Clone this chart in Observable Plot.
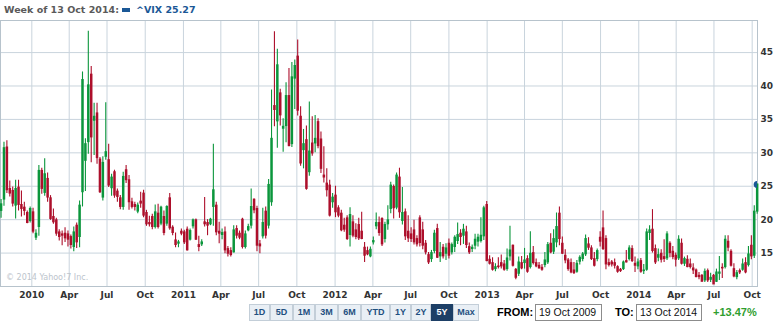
<!DOCTYPE html>
<html><head><meta charset="utf-8">
<script src="https://cdn.jsdelivr.net/npm/d3@7"></script>
<script src="https://cdn.jsdelivr.net/npm/@observablehq/plot@0.6"></script>
<style>
body{margin:0;background:#fff;}
#page{position:relative;width:776px;height:325px;overflow:hidden;font-family:"DejaVu Sans",Verdana,sans-serif;background:#fff;}
.hdr{position:absolute;top:4px;font-size:9.5px;font-weight:bold;line-height:12px;white-space:nowrap;}
#sq{position:absolute;left:122px;top:8px;width:8px;height:4px;background:#1b5896;}
#chart{position:absolute;left:0;top:20px;}
#wm{position:absolute;left:6px;top:273px;font-size:8px;color:#bcc4cc;white-space:nowrap;}
.btn{position:absolute;top:304px;height:17px;box-sizing:border-box;border:1px solid #c3ced8;background:#e9eff5;color:#1f4f80;font:bold 9px "Liberation Sans",Arial,sans-serif;line-height:15px;text-align:center;}
.btn.sel{background:#1d3f66;color:#fff;border-color:#1d3f66;}
.lbl{position:absolute;top:305px;font:bold 11px "Liberation Sans",Arial,sans-serif;line-height:15px;white-space:nowrap;}
.inp{position:absolute;top:304px;height:17px;box-sizing:border-box;border:1px solid #8c8c8c;font:10.5px "Liberation Sans",Arial,sans-serif;line-height:15px;padding-left:3px;color:#111;white-space:nowrap;}
</style></head>
<body>
<div id="page">
  <div class="hdr" style="left:4px;color:#5a5a5a">Week of 13 Oct 2014:</div>
  <div id="sq"></div>
  <div class="hdr" style="left:136px;color:#1b5896">^VIX 25.27</div>
  <div id="chart"></div>
  <div id="wm">© 2014 Yahoo!7 Inc.</div>
  <div id="bar"></div>
</div>
<script>
// weekly candles, first week starting Monday 19 Oct 2009
const firstWeek = new Date(Date.UTC(2009, 9, 19));
const open = [
21.3,23.0,30.8,24.6,24.3,22.1,24.8,22.2,21.8,21.0,
19.8,21.1,17.3,18.9,27.3,24.0,26.1,23.2,20.4,19.9,
18.1,17.8,17.9,17.8,17.4,15.9,19.1,17.4,24.1,28.8,
31.6,41.7,34.8,35.9,29.0,23.3,29.4,28.9,24.7,27.1,
24.2,23.2,21.9,27.4,25.9,22.6,22.2,21.2,22.7,23.9,
21.0,19.5,20.4,18.9,20.9,19.4,20.4,19.4,23.2,18.8,
16.9,16.4,18.2,18.1,18.5,17.0,19.0,19.9,16.2,16.3,
19.6,19.5,19.3,21.9,22.1,18.2,17.7,18.1,15.6,15.3,
15.1,18.6,17.9,20.0,15.9,18.4,19.1,23.0,21.6,16.3,
17.5,21.2,19.1,22.6,37.0,34.7,38.9,33.6,34.0,38.5,
31.3,41.1,44.4,35.4,30.4,31.9,27.1,31.4,31.4,34.6,
32.0,26.6,25.4,25.1,22.6,23.6,21.7,20.9,19.1,20.2,
17.7,19.6,18.4,19.2,18.2,15.8,15.3,14.5,16.6,19.0,
19.5,20.1,17.1,19.3,21.6,24.9,21.8,26.3,19.8,21.1,
18.2,17.8,18.4,17.1,20.2,18.4,16.4,14.7,14.1,15.3,
18.6,14.5,15.8,14.9,16.4,15.1,15.9,16.8,17.9,17.6,
18.1,15.9,15.6,16.1,16.7,16.8,17.5,22.2,14.0,13.5,
12.6,13.0,13.5,13.3,12.6,14.5,16.1,12.5,11.9,13.5,
13.5,14.1,12.9,15.0,13.5,13.1,12.8,13.2,13.6,16.4,
15.2,16.6,20.9,16.4,14.6,13.9,13.5,12.4,12.2,13.7,
14.1,14.8,16.3,15.7,14.1,14.1,17.3,18.7,17.1,13.5,
13.6,13.5,12.9,12.5,12.6,13.8,14.1,15.6,13.4,13.0,
13.8,12.3,12.5,18.0,18.5,15.6,14.3,14.9,14.4,14.2,
16.4,15.2,14.6,14.2,16.4,13.4,14.0,13.3,12.7,12.4,
11.6,11.6,10.9,12.3,11.0,11.6,10.7,11.9,12.8,12.9,
16.7,15.2,12.6,11.4,12.3,12.5,13.5,13.2,16.1,14.6,
21.2];
const high = [
23.0,31.6,31.8,25.8,24.9,25.9,25.9,24.3,22.6,21.3,
21.9,21.7,18.5,28.1,27.7,29.1,27.0,23.6,21.6,20.2,
18.5,18.3,18.8,18.3,17.7,18.9,19.5,22.8,42.1,32.1,
48.2,42.9,37.4,37.4,29.3,29.4,37.5,31.3,26.8,27.4,
24.6,23.6,27.1,28.1,26.6,23.2,22.6,22.5,24.1,24.4,
21.4,20.5,20.8,22.2,22.3,22.0,21.3,22.1,23.9,19.1,
18.0,16.9,18.6,18.4,18.9,18.6,20.1,20.1,17.5,17.0,
23.3,20.0,20.2,31.3,22.6,19.6,18.6,18.9,16.0,15.8,
19.1,19.1,18.3,20.2,18.3,19.3,24.6,23.1,22.0,16.9,
21.7,21.9,26.0,39.4,48.1,45.5,39.5,35.1,40.5,42.6,
43.5,43.9,46.9,36.9,33.5,34.0,37.6,35.4,35.6,35.1,
33.1,30.9,27.6,25.9,23.9,25.0,22.1,21.4,20.2,20.6,
21.8,20.6,19.4,20.2,21.1,16.6,15.9,15.9,17.4,21.0,
20.4,20.3,19.6,22.1,25.6,25.2,27.0,27.7,24.8,21.6,
20.6,18.8,19.9,17.6,20.6,19.6,16.9,15.1,15.4,18.4,
19.3,16.6,16.3,16.4,17.1,16.5,17.6,19.5,18.5,19.3,
19.0,16.5,16.2,17.8,17.8,20.3,22.0,22.7,14.6,14.3,
13.4,14.3,14.7,13.9,15.6,19.0,16.2,12.7,14.4,14.5,
15.7,14.6,18.2,16.0,14.1,13.6,13.3,15.1,16.6,17.9,
18.5,21.0,21.9,17.4,15.5,14.2,14.1,13.6,13.9,14.6,
15.1,17.7,17.3,16.1,15.1,15.6,18.2,21.3,17.6,14.1,
13.9,14.1,13.1,12.7,13.8,15.4,16.1,16.1,14.4,14.1,
14.2,13.3,18.6,19.1,21.5,16.2,15.6,15.5,17.0,18.2,
16.7,16.0,15.0,17.6,17.1,14.4,14.6,14.1,13.4,12.6,
12.1,11.8,12.6,12.6,12.0,11.8,12.6,14.5,13.4,17.6,
17.6,15.5,13.4,12.4,12.6,14.1,14.3,16.0,17.6,22.1,
25.3];
const low = [
20.2,22.0,23.9,23.4,21.9,20.1,21.3,20.4,20.6,19.4,
19.5,17.9,16.9,17.5,23.8,23.5,22.6,19.9,19.3,17.5,
16.8,16.1,16.6,15.9,15.6,15.2,15.7,15.8,21.9,24.2,
29.8,28.5,29.6,28.3,23.9,22.8,28.9,24.8,23.5,23.2,
22.6,21.5,21.4,25.4,21.4,21.6,21.3,20.9,21.7,20.3,
19.0,18.9,18.5,18.6,18.6,19.1,17.6,19.0,18.4,17.6,
15.8,15.8,17.6,16.3,15.3,16.8,18.6,16.9,15.2,16.0,
18.9,17.6,19.1,19.0,17.6,16.4,17.0,14.9,14.4,14.4,
15.0,17.1,17.0,15.6,15.6,18.2,18.6,20.9,15.2,14.9,
17.1,17.1,18.6,22.0,33.9,30.7,34.0,30.1,31.5,30.9,
30.8,36.5,35.5,28.0,27.6,24.4,26.5,29.5,30.0,30.6,
26.9,25.5,23.4,20.4,21.7,20.3,20.3,18.2,18.1,16.9,
15.9,17.3,17.0,16.9,17.0,13.6,14.6,14.3,16.2,18.5,
17.5,16.0,16.5,18.4,20.9,20.1,21.5,20.2,19.2,16.9,
16.6,16.6,16.2,15.9,15.9,15.5,14.7,13.3,13.6,14.9,
14.2,13.6,14.1,13.9,14.1,14.7,15.1,16.3,16.1,16.3,
15.7,14.8,15.1,15.5,15.9,16.5,16.9,13.7,13.2,12.3,
12.2,12.6,12.6,12.3,12.3,13.8,12.9,11.0,11.5,12.5,
12.6,12.0,12.6,13.2,12.8,12.6,12.3,12.8,13.3,14.9,
14.8,15.8,16.1,14.8,13.4,12.3,11.9,11.8,12.0,13.2,
13.7,14.5,15.4,13.9,12.9,13.7,15.9,15.4,12.5,12.9,
12.9,12.6,12.0,12.1,12.4,13.5,13.8,13.6,12.1,12.5,
12.0,11.8,12.3,16.9,15.0,13.3,13.7,13.5,13.6,13.9,
14.3,14.0,12.9,13.9,13.2,13.0,12.8,12.6,11.8,11.3,
11.0,10.7,10.6,10.6,10.6,10.3,10.6,10.9,11.2,12.6,
15.2,12.9,11.3,11.0,11.8,12.3,11.9,12.9,14.0,14.2,
20.8];
const close = [
22.3,30.7,24.4,23.9,22.4,24.6,22.2,21.6,21.3,19.5,
21.6,18.2,17.9,27.3,24.6,26.8,23.3,20.1,19.6,17.9,
17.4,17.6,17.2,17.0,16.2,18.1,16.6,22.1,40.9,31.3,
40.1,32.3,35.4,29.2,24.1,28.5,30.1,25.1,26.3,23.6,
23.4,21.9,26.4,25.9,22.6,21.9,21.9,22.1,22.4,20.6,
19.3,19.3,18.9,21.1,18.9,21.8,18.0,21.9,18.7,18.0,
16.2,16.6,17.9,16.6,15.4,18.3,19.9,17.0,15.9,16.6,
19.3,19.1,20.0,24.4,18.1,17.9,18.0,15.4,14.9,14.7,
18.4,17.6,17.3,15.9,17.8,18.9,21.9,21.4,16.1,16.0,
19.5,17.6,25.2,32.1,36.4,43.1,35.6,33.9,38.5,31.0,
41.3,43.0,36.3,28.4,31.3,24.6,30.2,29.9,32.1,31.0,
27.6,26.3,24.4,20.6,23.3,21.1,20.6,18.4,18.5,17.1,
20.7,17.6,17.4,17.2,17.1,14.6,14.8,15.5,16.8,19.5,
18.0,16.3,19.2,19.9,25.1,21.7,26.6,21.1,21.0,17.5,
17.2,17.1,16.6,16.3,16.5,16.1,15.1,13.6,15.0,17.9,
14.3,15.0,14.5,15.7,14.6,16.2,17.3,17.7,17.4,18.5,
16.2,15.1,15.8,17.0,17.3,17.6,21.7,13.8,13.4,12.5,
12.9,12.9,13.0,12.5,14.2,15.4,13.1,11.3,13.6,12.7,
13.9,12.2,14.9,13.5,13.0,12.7,12.5,13.9,16.2,15.1,
17.1,18.9,17.1,14.9,13.9,12.6,12.1,12.0,13.4,14.3,
14.8,17.1,15.8,14.1,13.1,15.3,16.7,15.6,13.3,13.2,
13.3,13.1,12.2,12.3,13.6,13.6,15.7,13.8,13.1,13.6,
12.2,12.4,18.1,18.4,15.3,13.6,14.7,14.0,14.1,17.8,
15.0,14.4,14.0,17.0,13.4,14.1,12.9,12.9,12.4,11.4,
11.4,10.7,12.2,10.9,11.3,10.3,12.1,12.1,12.7,17.0,
15.8,13.1,11.5,12.0,12.1,13.3,12.1,14.8,14.5,21.2,
25.27];
const yTicks = [15, 20, 25, 30, 35, 40, 45];
const rangeButtons = ["1D","5D","1M","3M","6M","YTD","1Y","2Y","5Y","Max"];
const selectedRange = "5Y";
const fromDate = "19 Oct 2009", toDate = "13 Oct 2014", change = "+13.47%";

const data = close.map((c, i) => ({
  date: d3.utcDay.offset(firstWeek, 7 * i),
  open: open[i], high: high[i], low: low[i], close: c
}));
const up = "#0b963c", down = "#ad0f2b";
const col = d => d.close >= d.open ? up : down;
const grid = "#c9d4dd";

const chart = Plot.plot({
  width: 776, height: 282,
  marginLeft: 0, marginRight: 19, marginTop: 0, marginBottom: 16,
  x: {type: "utc", domain: [new Date(Date.UTC(2009, 9, 17, 15)), new Date(Date.UTC(2014, 9, 13, 19))]},
  y: {domain: [10, 49.8]},
  style: {fontFamily: "'DejaVu Sans', Verdana, sans-serif", fontSize: "9px", fontWeight: "bold", color: "#333", background: "#fff", overflow: "visible"},
  marks: [
    Plot.gridX({ticks: d3.utcMonth.every(3), stroke: grid, strokeOpacity: 1}),
    Plot.gridY(yTicks, {stroke: grid, strokeOpacity: 1}),
    Plot.frame({stroke: "#b7c3cc"}),
    Plot.ruleX(data, {x: "date", y1: "low", y2: "high", stroke: col, strokeWidth: 1.1}),
    Plot.ruleX(data, {x: "date",
      y1: d => Math.min(d.open, d.close) - 0.07,
      y2: d => Math.max(d.open, d.close) + 0.07,
      stroke: col, strokeWidth: 2.5}),
    Plot.dot([data[data.length - 1]], {x: "date", y: "close", r: 3.5, fill: "#1b5896", clip: "frame"}),
    Plot.axisX({ticks: d3.utcMonth.every(3), tickSize: 0, tickPadding: 5, label: null,
      tickFormat: d => d.getUTCMonth() === 0 ? String(d.getUTCFullYear()) : d3.utcFormat("%b")(d)}),
    Plot.axisY(yTicks, {anchor: "right", tickSize: 0, tickPadding: 3, label: null})
  ]
});
document.getElementById("chart").appendChild(chart);

// bottom control row
const bar = document.getElementById("bar");
const btnLeft = [249, 270, 293, 315, 338, 361, 390, 411, 431, 453, 479];
rangeButtons.forEach((t, i) => {
  const b = document.createElement("div");
  b.className = "btn" + (t === selectedRange ? " sel" : "");
  b.style.left = btnLeft[i] + "px";
  b.style.width = (btnLeft[i + 1] - btnLeft[i]) + "px";
  b.textContent = t;
  bar.appendChild(b);
});
function add(cls, left, text, extra) {
  const e = document.createElement("div");
  e.className = cls; e.style.left = left + "px"; e.textContent = text;
  if (extra) Object.assign(e.style, extra);
  bar.appendChild(e);
}
add("lbl", 497, "FROM:");
add("inp", 535, fromDate, {width: "67px"});
add("lbl", 615, "TO:");
add("inp", 636, toDate, {width: "66px"});
add("lbl", 713, change, {color: "#2f9e2f"});
</script>
</body></html>
